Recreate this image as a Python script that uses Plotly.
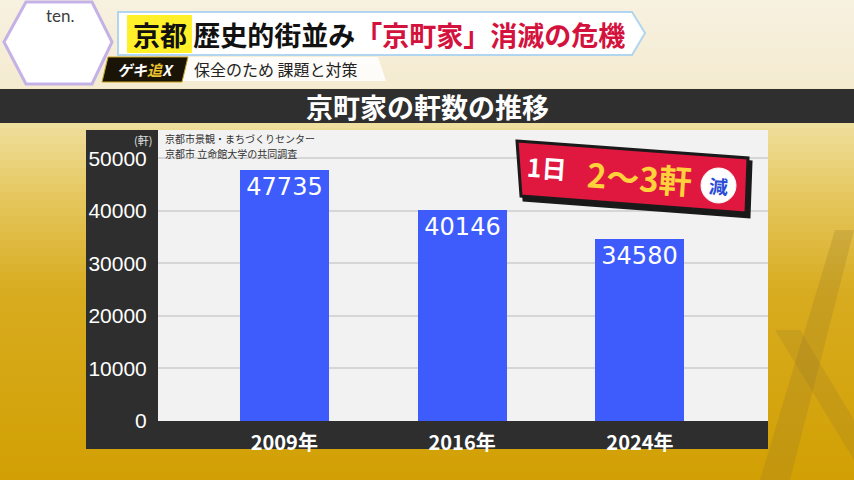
import plotly.graph_objects as go

# ---- data ----
categories = ["2009年", "2016年", "2024年"]
counts = [47735, 40146, 34580]
y_ticks = [0, 10000, 20000, 30000, 40000, 50000]
y_tick_labels = ["0", "10000", "20000", "30000", "40000", "50000"]

W, H = 854, 480
L, R, T, B = 158, 768, 130, 421  # plot area in px

def px(x):
    return (x - L) / (R - L)

def py(y):
    return (B - y) / (B - T)

JP = "Noto Sans CJK JP"
shapes = []
annos = []

def note(x, y, text, size, color, family=JP, xa="center", ya="middle", angle=0, align="center", pad=1):
    annos.append(dict(x=px(x), y=py(y), xref="paper", yref="paper", text=text, showarrow=False,
                      xanchor=xa, yanchor=ya, textangle=angle, align=align, borderpad=pad,
                      font=dict(family=family, size=size, color=color)))

def poly(points, fill, line=None, layer="below"):
    p = " ".join(("M" if i == 0 else "L") + " %f %f" % (px(a), py(b)) for i, (a, b) in enumerate(points)) + " Z"
    shapes.append(dict(type="path", xref="paper", yref="paper", layer=layer, path=p,
                       fillcolor=fill, line=line or dict(width=0)))

# ---- background gradient (styling) ----
stops = [(0, (247, 241, 224)), (85, (244, 235, 208)), (130, (238, 221, 152)),
         (200, (229, 198, 92)), (290, (216, 172, 32)), (480, (210, 160, 4))]
def col(y):
    for (y0, c0), (y1, c1) in zip(stops, stops[1:]):
        if y0 <= y <= y1:
            t = (y - y0) / (y1 - y0)
            return "rgb(%d,%d,%d)" % tuple(round(a + (b - a) * t) for a, b in zip(c0, c1))
    return "rgb(%d,%d,%d)" % stops[-1][1]
step = 8
for y0 in range(0, H, step):
    shapes.append(dict(type="rect", xref="paper", yref="paper", layer="below",
                       x0=px(-5), x1=px(W + 5), y0=py(y0), y1=py(y0 + step + 1),
                       fillcolor=col(y0 + step / 2), line_width=0))

# decorative X on the right
poly([(835, 230), (854, 230), (790, 480), (760, 480)], "rgba(150,120,40,0.25)")
poly([(775, 330), (800, 330), (854, 420), (854, 460)], "rgba(150,120,40,0.22)")

# ---- header ----
poly([(4, 42), (26, 2), (92, 2), (112, 42), (92, 84), (26, 84)], "white",
     dict(color="rgba(190,170,230,0.9)", width=3))
note(60, 15, "ten.", 17, "#404040", family="Lato")
poly([(118, 12), (632, 12), (645, 33), (632, 55), (118, 55)], "white",
     dict(color="rgba(170,210,240,0.9)", width=2))
shapes.append(dict(type="rect", xref="paper", yref="paper", layer="below",
                   x0=px(127), x1=px(192), y0=py(15), y1=py(53),
                   fillcolor="#fff02a", line_width=0))
note(131, 34, "<b>京都</b><b> 歴史的街並み</b><span style='color:#d3123e'><b>「京町家」消滅の危機</b></span>",
     27, "#111", xa="left")
poly([(180, 57), (378, 57), (386, 81), (180, 81)], "rgba(255,255,255,0.85)")
poly([(108, 57), (188, 57), (182, 82), (102, 82)], "#1a1406", dict(color="#c9a020", width=1))
note(145, 69, "<b><i>ゲキ<span style='color:#e8c030'>追</span>X</i></b>", 15, "white")
note(192, 69, "保全のため 課題と対策", 16, "#222", xa="left")

# ---- chart title bar ----
shapes.append(dict(type="rect", xref="paper", yref="paper", layer="below",
                   x0=px(-5), x1=px(W + 5), y0=py(89), y1=py(123),
                   fillcolor="#2f2f2f", line_width=0))
note(427, 106, "<b>京町家の軒数の推移</b>", 27, "white")

# ---- dark panel + plot area ----
shapes.append(dict(type="rect", xref="paper", yref="paper", layer="below",
                   x0=px(86), x1=px(768), y0=py(449), y1=py(130),
                   fillcolor="#2e2e2e", line_width=0))
shapes.append(dict(type="rect", xref="paper", yref="paper", layer="below",
                   x0=0, x1=1, y0=0, y1=1, fillcolor="#f2f2f2", line_width=0))

note(154, 140, "(軒)", 11, "#e0e0e0", xa="right")
note(164, 138, "京都市景観・まちづくりセンター", 10, "#333", xa="left", pad=0)
note(164, 153, "京都市 立命館大学の共同調査", 10, "#333", xa="left", pad=0)

# ---- badge ----
badge = [(517, 141), (748, 158), (746, 213), (521, 196)]
poly([(x + 3, y + 4) for x, y in badge], "#1a1a1a", dict(color="#1a1a1a", width=3), layer="above")
poly(badge, "#e0183f", dict(color="#1a1a1a", width=3), layer="above")
shapes.append(dict(type="circle", xref="paper", yref="paper",
                   x0=px(701), x1=px(736), y0=py(203), y1=py(168),
                   fillcolor="white", line=dict(color="#f5f5f5", width=1)))
note(547, 167, "<b>1日</b>", 25, "white", angle=4)
note(639, 177, "<b>2〜3軒</b>", 33, "#ffd23c", angle=4)
note(718.5, 185.5, "<b>減</b>", 19, "#2a4bd6", angle=4)

# ---- bars ----
fig = go.Figure(go.Bar(
    x=categories, y=counts, width=0.5,
    marker=dict(color="#3d5cfb", line_width=0),
    text=[str(v) for v in counts], textposition="inside", insidetextanchor="end",
    textangle=0, constraintext="none",
    textfont=dict(family="DejaVu Sans", size=24, color="white"),
    hoverinfo="skip",
))

fig.update_layout(
    width=W, height=H,
    margin=dict(l=L, r=W - R, t=T, b=H - B, pad=0),
    paper_bgcolor="#d8ad20",
    plot_bgcolor="rgba(0,0,0,0)",
    showlegend=False,
    shapes=shapes,
    annotations=annos,
    xaxis=dict(range=[-0.71, 2.72], showgrid=False, zeroline=False, showline=False,
               ticks="outside", ticklen=4, tickcolor="rgba(0,0,0,0)",
               tickfont=dict(family=JP, size=20, color="white"),
               tickvals=categories, ticktext=["<b>%s</b>" % c for c in categories]),
    yaxis=dict(range=[0, 55400], tickvals=y_ticks, ticktext=y_tick_labels,
               showgrid=True, gridcolor="#d6d6d6", gridwidth=1.5, zeroline=False, showline=False,
               ticks="outside", ticklen=6, tickcolor="rgba(0,0,0,0)",
               tickfont=dict(family="Liberation Sans", size=21, color="white")),
    bargap=0,
)

fig.write_html("out.html", config={"displayModeBar": False},
               post_script="document.body.style.margin='0';document.body.style.overflow='hidden';")
